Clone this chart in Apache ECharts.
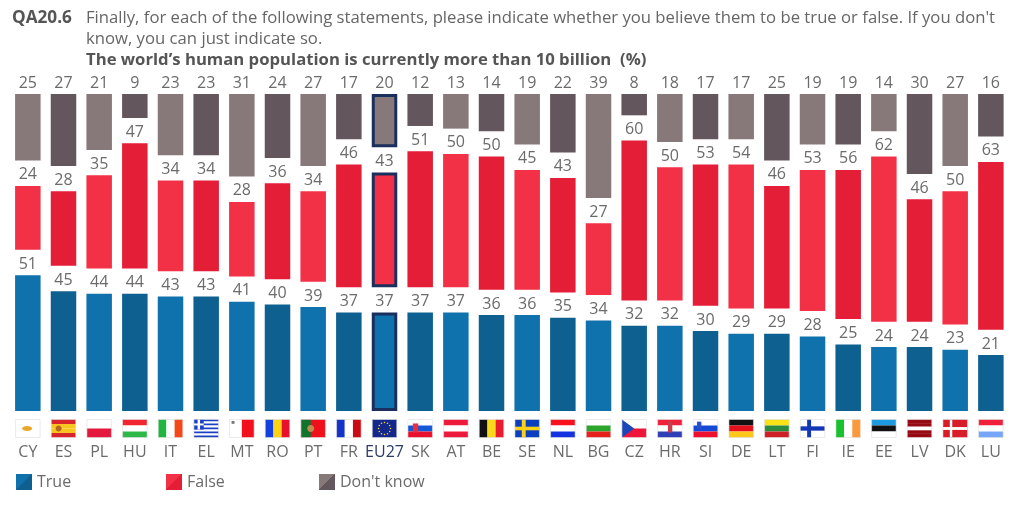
<!DOCTYPE html>
<html><head><meta charset="utf-8">
<style>html,body{margin:0;padding:0;background:#fff}#c{width:1024px;height:506px}</style>
<script src="https://cdn.jsdelivr.net/npm/echarts@6/dist/echarts.min.js"></script>
</head><body><div id="c"></div>
<script>
const categories=['CY','ES','PL','HU','IT','EL','MT','RO','PT','FR','EU27','SK','AT','BE','SE','NL','BG','CZ','HR','SI','DE','LT','FI','IE','EE','LV','DK','LU'];
const trueValues=[51,45,44,44,43,43,41,40,39,37,37,37,37,36,36,35,34,32,32,30,29,29,28,25,24,24,23,21];
const falseValues=[24,28,35,47,34,34,28,36,34,46,43,51,50,50,45,43,27,60,50,53,54,46,53,56,62,46,50,63];
const dontKnowValues=[25,27,21,9,23,23,31,24,27,17,20,12,13,14,19,22,39,8,18,17,17,25,19,19,14,30,27,16];
const FONT='"Open Sans"';
const GAP=9.5, HIGHLIGHT='EU27';
const shades={
  t:['#0f72ad','#0d6090'],
  f:['#f33146','#e31e36'],
  d:['#87787a','#63565c']
};
const W='#ffffff';
const flags={
 CY:{h:[W],oval:'#e8a82a',ox:.47,rx:5,ry:2.4},
 ES:{h:['#d8242c','#f7c51e','#f7c51e','#d8242c'],oval:'#b5651d',ox:.3,rx:3,ry:3},
 PL:{h:[W,'#e4173c']},
 HU:{h:['#f0252f',W,'#2fb84a']},
 IT:{v:['#1fb53f',W,'#f4481a']},
 EL:{h:['#1c3fc4',W,'#1c3fc4',W,'#1c3fc4',W,'#1c3fc4',W,'#1c3fc4'],r:[[0,0,.4,.56,'#1c3fc4'],[.15,0,.1,.56,W],[0,.22,.4,.11,W]]},
 MT:{v:[W,'#f2101c'],r:[[.08,.08,.12,.16,'#777777']]},
 RO:{v:['#1440e0','#fcd116','#e8102c']},
 PT:{r:[[0,0,1,1,'#f0101c'],[0,0,.4,1,'#11742c']],oval:'#c08a50',ox:.4,rx:3.5,ry:3.5},
 FR:{v:['#1433c8',W,'#cc0a14']},
 EU27:{h:['#14288c'],stars:'#f2d21e'},
 SK:{h:[W,'#1358d8','#e8102c'],r:[[.2,.22,.22,.5,'#e83040']]},
 AT:{h:['#ee1a3c',W,'#ee1a3c']},
 BE:{v:['#111111','#f8d91c','#ea1c30']},
 SE:{h:['#0a3fc0'],r:[[.28,0,.16,1,'#fcd116'],[0,.4,1,.2,'#fcd116']]},
 NL:{h:['#f8101c',W,'#1433e0']},
 BG:{h:[W,'#2ca52c','#e8201c']},
 CZ:{h:[W,'#ee1538'],tri:'#1b45b8'},
 HR:{h:['#f0203c',W,'#2e3fb8'],r:[[.42,.12,.18,.6,'#c83c50']]},
 SI:{h:[W,'#1648d8','#ef1030'],r:[[.15,.12,.18,.38,'#2c50c8']]},
 DE:{h:['#111111','#e4101c','#fcc81c']},
 LT:{h:['#fbe216','#2a8a3e','#cf1f26']},
 FI:{h:[W],r:[[.28,0,.16,1,'#1238b8'],[0,.38,1,.24,'#1238b8']]},
 IE:{v:['#17c22e',W,'#fb9a3c']},
 EE:{h:['#1c9be0','#111111',W]},
 LV:{h:['#960a14','#960a14',W,'#960a14','#960a14']},
 DK:{h:['#d81c28'],r:[[.28,0,.1,1,W],[0,.42,1,.16,W]]},
 LU:{h:['#f0203c',W,'#76a6f8']}
};
const lg=(a,b)=>new echarts.graphic.LinearGradient(0,0,1,1,[{offset:0,color:a},{offset:.5,color:a},{offset:.5,color:b},{offset:1,color:b}]);
const labelStyle={show:true,position:'top',distance:3,fontFamily:FONT,fontSize:16,color:'#6b6b6b'};
function mk(vals,key){
  return vals.map((v,i)=>{
    const o={value:v,itemStyle:{color:shades[key][i%2]}};
    if(categories[i]===HIGHLIGHT) o.itemStyle.borderColor='#1b2f5c',o.itemStyle.borderWidth=3;
    return o;
  });
}
function spacer(name){return {name,type:'bar',stack:'s',barWidth:25.5,silent:true,itemStyle:{color:'transparent'},data:categories.map(()=>GAP)};}
function real(name,vals,key){return {name,type:'bar',stack:'s',barWidth:25.5,label:labelStyle,
  itemStyle:{color:lg(shades[key][0],shades[key][1])},data:mk(vals,key)};}
function flagItem(params,api){
  const cat=categories[params.dataIndex], f=flags[cat];
  const p=api.coord([params.dataIndex,0]), cx=p[0], base=p[1];
  const w=24.5,h=18,x0=cx-w/2,y0=base+8.5, ch=[];
  const R=(x,y,a,b,c)=>ch.push({type:'rect',shape:{x:x0+x*w,y:y0+y*h,width:a*w,height:b*h},style:{fill:c}});
  if(f.h) f.h.forEach((c,i)=>R(0,i/f.h.length,1,1/f.h.length,c));
  if(f.v) f.v.forEach((c,i)=>R(i/f.v.length,0,1/f.v.length,1,c));
  if(f.r) f.r.forEach(r=>R(...r));
  if(f.tri) ch.push({type:'polygon',shape:{points:[[x0,y0],[x0+w*.5,y0+h/2],[x0,y0+h]]},style:{fill:f.tri}});
  if(f.oval) ch.push({type:'ellipse',shape:{cx:x0+w*f.ox,cy:y0+h/2,rx:f.rx,ry:f.ry},style:{fill:f.oval}});
  if(f.stars) for(let k=0;k<12;k++){const a=k/12*Math.PI*2;ch.push({type:'circle',shape:{cx:cx+Math.cos(a)*6,cy:y0+h/2+Math.sin(a)*6,r:.8},style:{fill:f.stars}});}
  ch.push({type:'rect',shape:{x:x0,y:y0,width:w,height:h},style:{fill:'none',stroke:'#dddddd',lineWidth:.6}});
  return {type:'group',children:ch};
}
const text=(t,left,top,bold,color,size)=>({text:t,left,top,padding:0,textStyle:{fontFamily:FONT,fontSize:size||16.7,fontWeight:bold?'bold':'normal',color:color||'#666666'}});
const legendBase={orient:'horizontal',top:474,padding:0,itemWidth:16,itemHeight:16,itemGap:5,icon:'rect',textStyle:{fontFamily:FONT,fontSize:16,color:'#6b6b6b',padding:[2,0,0,0]}};
const chart=echarts.init(document.getElementById('c'),null,{renderer:'canvas'});
chart.setOption({
  animation:false,
  title:[
    text('QA20.6',12,10,true,'#555555',17.2),
    text("Finally, for each of the following statements, please indicate whether you believe them to be true or false. If you don't",86,10),
    text('know, you can just indicate so.',86,30.5),
    text('The world\u2019s human population is currently more than 10 billion  (%)',86,52,true,'#555555')
  ],
  legend:[
    {...legendBase,left:16,data:['True']},
    {...legendBase,left:166,data:['False']},
    {...legendBase,left:319,data:["Don't know"]}
  ],
  grid:{left:10,right:15.3,top:94,bottom:95},
  xAxis:{type:'category',data:categories,axisLine:{show:false},axisTick:{show:false},
    axisLabel:{margin:33,interval:0,fontFamily:FONT,fontSize:16,
      color:(v)=>v===HIGHLIGHT?'#2b3a66':'#6b6b6b'}},
  yAxis:{type:'value',min:0,max:100+2*GAP,show:false},
  series:[
    real('True',trueValues,'t'),spacer('gap1'),
    real('False',falseValues,'f'),spacer('gap2'),
    real("Don't know",dontKnowValues,'d'),
    {type:'custom',name:'flags',silent:true,clip:false,renderItem:flagItem,data:categories.map((c,i)=>[i,0]),encode:{x:0,y:1},z:5}
  ]
});
</script></body></html>
